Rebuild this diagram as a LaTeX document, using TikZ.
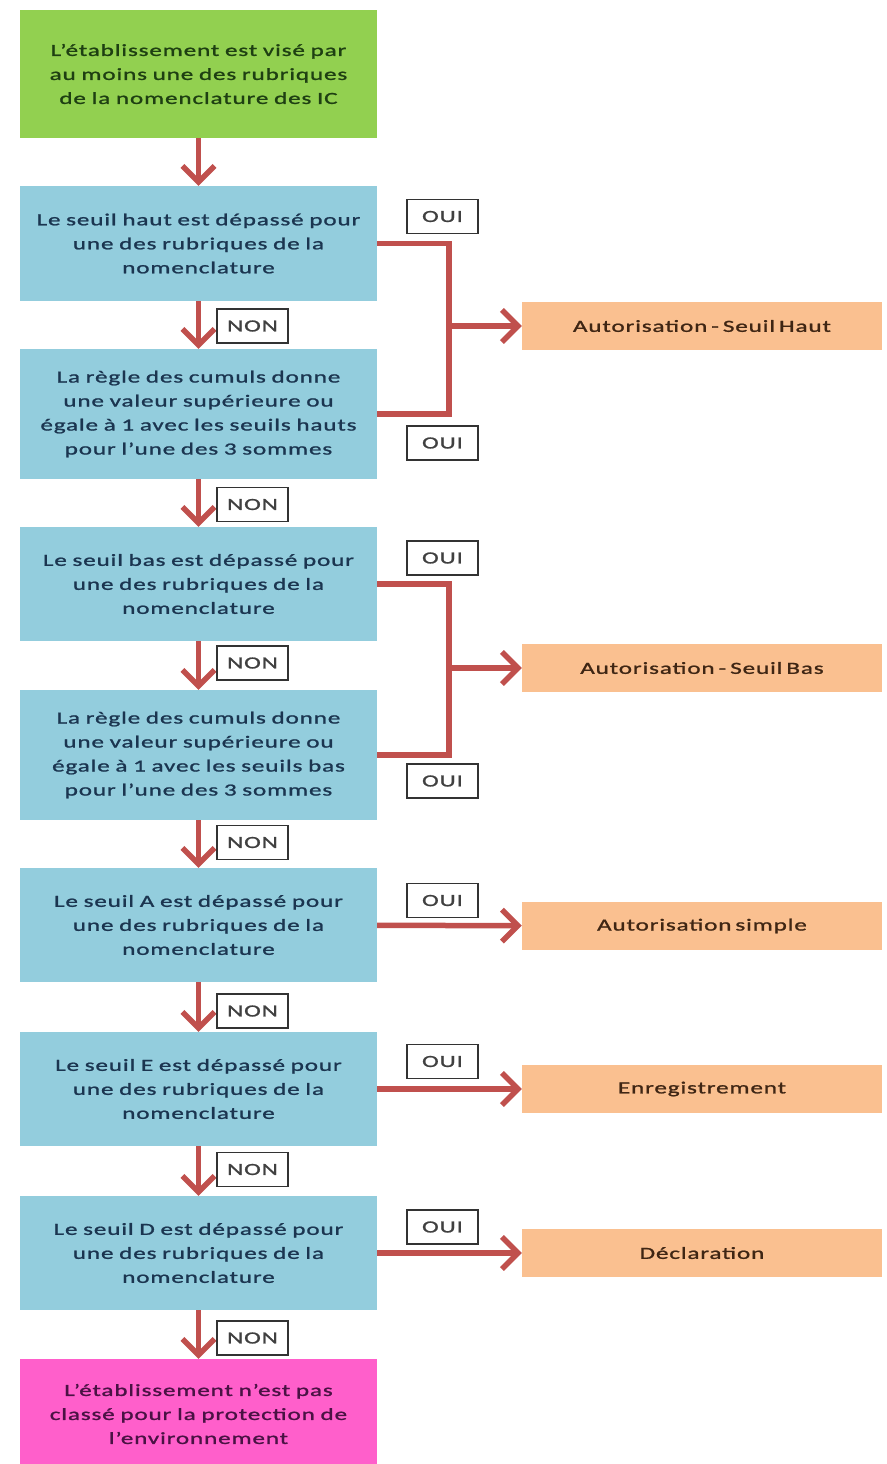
\documentclass[tikz,border=0pt]{standalone}
\usepackage{fontspec}
\setmainfont{Carlito}[FakeStretch=1.48, LetterSpace=5, WordSpace=0.6, FakeBold=1.2]
\usetikzlibrary{arrows.meta}
\definecolor{boxgreen}{HTML}{92D050}
\definecolor{boxblue}{HTML}{93CDDD}
\definecolor{boxorange}{HTML}{FAC090}
\definecolor{boxpink}{HTML}{FF5FCB}
\definecolor{flowred}{HTML}{C0504D}
\definecolor{txtgreen}{HTML}{1E3F12}
\definecolor{txtblue}{HTML}{1B3550}
\definecolor{txtbrown}{HTML}{3F2614}
\definecolor{txtpurple}{HTML}{4A1244}
\begin{document}
\begin{tikzpicture}[x=1pt,y=-1pt,
  step box/.style={minimum width=357pt, text width=355pt, align=center,
    inner sep=0pt, font=\fontsize{17}{24}\selectfont},
  testbox/.style={step box, fill=boxblue, text=txtblue},
  resultbox/.style={minimum width=360pt, minimum height=48pt, inner sep=0pt,
    fill=boxorange, text=txtbrown, font=\fontsize{17}{24}\selectfont},
  tag/.style={draw=black!80, line width=1.2pt, fill=white, minimum width=71pt,
    minimum height=34pt, inner sep=0pt, text=black!75,
    font=\fontsize{17}{20}\selectfont},
  conn/.style={draw=flowred, line width=5.5pt},
  arr/.style={conn, -{Straight Barb[length=16pt,width=32pt,line width=5.5pt]}}
]
\useasboundingbox (0,0) rectangle (886,1464);

% decision column
\node[step box, fill=boxgreen, text=txtgreen, minimum height=128pt] (start) at (198.5,74)
  {L'établissement est visé par\\au moins une des rubriques\\de la nomenclature des IC};
\node[testbox, minimum height=115pt] (b1) at (198.5,243.5)
  {Le seuil haut est dépassé pour\\une des rubriques de la\\nomenclature};
\node[testbox, minimum height=130pt] (b2) at (198.5,414)
  {La règle des cumuls donne\\une valeur supérieure ou\\égale à 1 avec les seuils hauts\\pour l'une des 3 sommes};
\node[testbox, minimum height=114pt] (b3) at (198.5,584)
  {Le seuil bas est dépassé pour\\une des rubriques de la\\nomenclature};
\node[testbox, minimum height=130pt] (b4) at (198.5,755)
  {La règle des cumuls donne\\une valeur supérieure ou\\égale à 1 avec les seuils bas\\pour l'une des 3 sommes};
\node[testbox, minimum height=114pt] (b5) at (198.5,925)
  {Le seuil A est dépassé pour\\une des rubriques de la\\nomenclature};
\node[testbox, minimum height=114pt] (b6) at (198.5,1089)
  {Le seuil E est dépassé pour\\une des rubriques de la\\nomenclature};
\node[testbox, minimum height=114pt] (b7) at (198.5,1253)
  {Le seuil D est dépassé pour\\une des rubriques de la\\nomenclature};
\node[step box, fill=boxpink, text=txtpurple, minimum height=110pt] (end) at (198.5,1414)
  {L'établissement n'est pas\\classé pour la protection de\\l'environnement};

% outcomes
\node[resultbox] (o1) at (702,326) {Autorisation - Seuil Haut};
\node[resultbox] (o2) at (702,668) {Autorisation - Seuil Bas};
\node[resultbox] (o3) at (702,926) {Autorisation simple};
\node[resultbox] (o4) at (702,1089) {Enregistrement};
\node[resultbox] (o5) at (702,1253) {Déclaration};

% vertical flow
\draw[arr] (start) -- (b1);
\draw[arr] (b1) -- (b2);
\draw[arr] (b2) -- (b3);
\draw[arr] (b3) -- (b4);
\draw[arr] (b4) -- (b5);
\draw[arr] (b5) -- (b6);
\draw[arr] (b6) -- (b7);
\draw[arr] (b7) -- (end);

% joined branches
\coordinate (j1) at (449,326);
\coordinate (j2) at (449,668);
\draw[conn, line join=miter] (b1.east) -| (j1) |- (b2.east);
\draw[arr] (j1) -- (o1);
\draw[conn, line join=miter] (b3.east) -| (j2) |- (b4.east);
\draw[arr] (j2) -- (o2);

% single branches
\draw[arr] (b5) -- (o3);
\draw[arr] (b6) -- (o4);
\draw[arr] (b7) -- (o5);

% NON labels
\node[tag] (n1) at (252.5,326) {NON};
\node[tag] (n2) at (252.5,504.5) {NON};
\node[tag] (n3) at (252.5,663) {NON};
\node[tag] (n4) at (252.5,842.5) {NON};
\node[tag] (n5) at (252.5,1011) {NON};
\node[tag] (n6) at (252.5,1169.5) {NON};
\node[tag] (n7) at (252.5,1338) {NON};

% OUI labels
\node[tag] (y1) at (442.5,216.5) {OUI};
\node[tag] (y2) at (442.5,443) {OUI};
\node[tag] (y3) at (442.5,558) {OUI};
\node[tag] (y4) at (442.5,781) {OUI};
\node[tag] (y5) at (442.5,900.5) {OUI};
\node[tag] (y6) at (442.5,1061.5) {OUI};
\node[tag] (y7) at (442.5,1227) {OUI};
\end{tikzpicture}
\end{document}
